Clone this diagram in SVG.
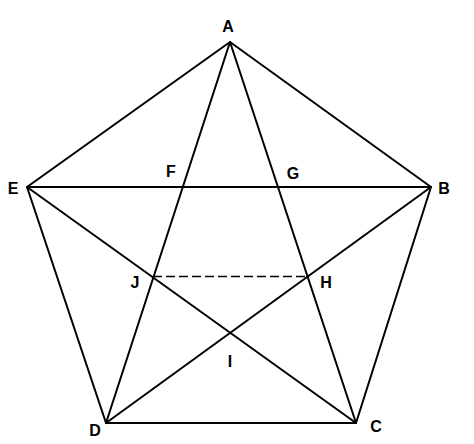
<svg xmlns="http://www.w3.org/2000/svg" width="474" height="444" viewBox="0 0 474 444">
<style>
.e{stroke:#000;stroke-width:2;fill:none;stroke-linecap:round}
.d{stroke:#000;stroke-width:1.5;fill:none;stroke-dasharray:9 4}
text{font-family:"Liberation Sans",Arial,sans-serif;font-weight:bold;font-size:16px;fill:#000;text-anchor:middle}
</style>
<rect width="474" height="444" fill="#fff"/>
<g id="connectors">
<line class="e" x1="230" y1="42" x2="431" y2="187"/>
<line class="e" x1="431" y1="187" x2="356" y2="423"/>
<line class="e" x1="356" y1="423" x2="106" y2="423"/>
<line class="e" x1="106" y1="423" x2="27" y2="187"/>
<line class="e" x1="27" y1="187" x2="230" y2="42"/>
<line class="e" x1="27" y1="187" x2="431" y2="187"/>
<line class="e" x1="230" y1="42" x2="106" y2="423"/>
<line class="e" x1="230" y1="42" x2="356" y2="423"/>
<line class="e" x1="27" y1="187" x2="356" y2="423"/>
<line class="e" x1="106" y1="423" x2="431" y2="187"/>
<line class="d" x1="153" y1="276.5" x2="307" y2="276.5"/>
</g>
<g id="A"><text x="228" y="32">A</text></g>
<g id="B"><text x="444" y="194">B</text></g>
<g id="C"><text x="376" y="432">C</text></g>
<g id="D"><text x="95" y="436">D</text></g>
<g id="E"><text x="13" y="194">E</text></g>
<g id="F"><text x="171" y="177">F</text></g>
<g id="G"><text x="293" y="179">G</text></g>
<g id="J"><text x="135" y="288">J</text></g>
<g id="H"><text x="326" y="288">H</text></g>
<g id="I"><text x="230" y="367">I</text></g>
</svg>
